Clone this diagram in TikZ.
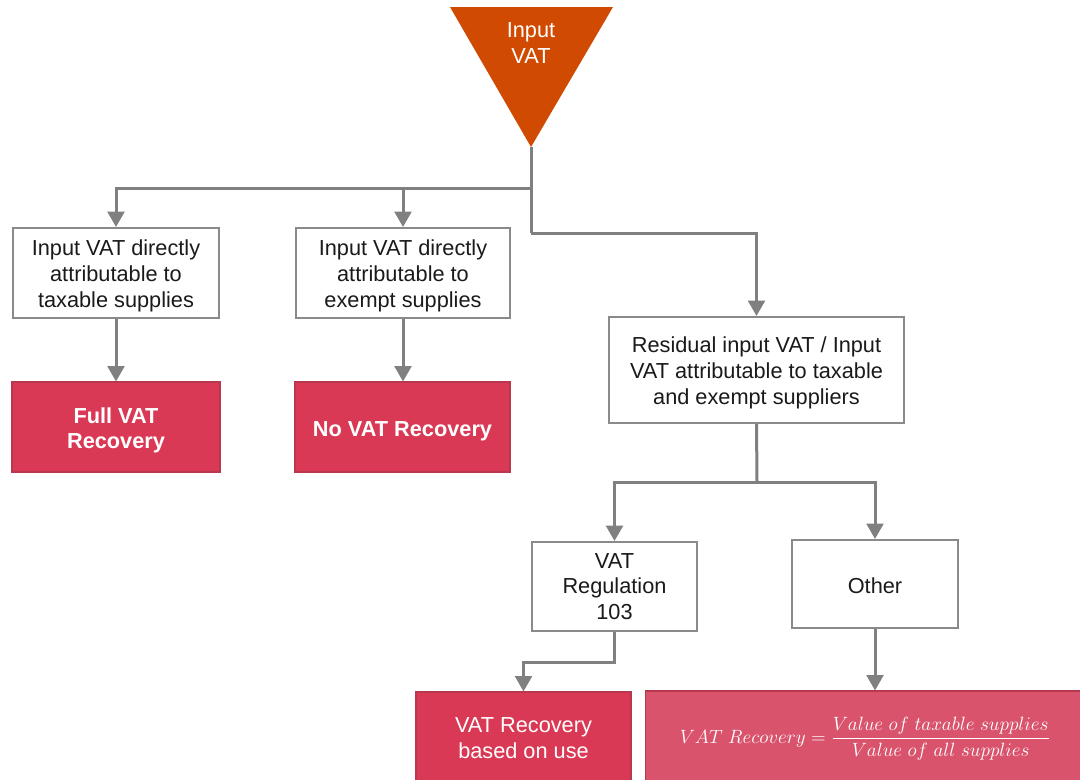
\documentclass[tikz,border=0pt]{standalone}
\usepackage{fontspec}
\setmainfont{Liberation Sans}
\usetikzlibrary{arrows.meta}
\definecolor{vatorange}{HTML}{D04A02}
\definecolor{vatred}{HTML}{D93954}
\definecolor{vatrose}{HTML}{D9536D}
\definecolor{vatredline}{HTML}{B8384F}
\definecolor{linegray}{HTML}{808080}
\definecolor{boxgray}{HTML}{8A8A8A}
\definecolor{ink}{HTML}{1A1A1A}
% taller first-line strut, lowers a text block inside its box
\newcommand\lowstrut[1]{\rule{0pt}{#1}}
\tikzset{
  whitebox/.style={draw=boxgray, line width=1.5pt, fill=white, align=center,
    text=ink, font=\fontsize{16.3}{19.2}\selectfont, inner sep=0pt},
  redbox/.style={draw=vatredline, line width=0.8pt, fill=vatred, align=center,
    text=white, font=\fontsize{16.3}{19.2}\selectfont, inner sep=0pt},
  conn/.style={draw=linegray, line width=2.25pt},
  arr/.style={conn, -{Triangle[width=12.5pt,length=11.5pt]}},
}
\begin{document}
\begin{tikzpicture}[x=0.75pt, y=-0.75pt]
  \clip (0,0) rectangle (1080,779);
  \fill[white] (0,0) rectangle (1080,779);

  % top triangle
  \coordinate (tl) at (450,7);
  \coordinate (tr) at (613,7);
  \coordinate (tip) at (531,147);
  \fill[vatorange] (tl) -- (tr) -- (tip) -- cycle;
  \node[align=center, text=white, font=\fontsize{16.3}{19.2}\selectfont] (input) at (531,43) {Input\\VAT};

  % junction points
  \coordinate (j0) at (531,188);
  \coordinate (j1) at (531,233);
  \coordinate (j2) at (757,482);

  % boxes
  \node[whitebox, minimum width=154.5pt, minimum height=67.5pt] (taxable) at (116,273)
    {\lowstrut{16pt}Input VAT directly\\attributable to\\taxable supplies};
  \node[whitebox, minimum width=160.5pt, minimum height=67.5pt] (exempt) at (403,273)
    {\lowstrut{16pt}Input VAT directly\\attributable to\\exempt supplies};
  \node[redbox, minimum width=156pt, minimum height=67.5pt, font=\fontsize{16.3}{18.5}\selectfont\bfseries] (full) at (116,427)
    {\lowstrut{16.5pt}Full VAT\\Recovery};
  \node[redbox, minimum width=161.25pt, minimum height=67.5pt, font=\fontsize{16.3}{18.5}\selectfont\bfseries] (none) at (402.5,427)
    {\lowstrut{17.5pt}No VAT Recovery};
  \node[whitebox, minimum width=221.25pt, minimum height=79.5pt] (residual) at (756.5,370)
    {\lowstrut{16pt}Residual input VAT / Input\\VAT attributable to taxable\\and exempt suppliers};
  \node[whitebox, minimum width=123.75pt, minimum height=66.75pt] (reg) at (614.5,586.5)
    {VAT\\Regulation\\103};
  \node[whitebox, minimum width=124.5pt, minimum height=66pt] (other) at (875,584)
    {\lowstrut{14.5pt}Other};
  \node[redbox, minimum width=161.25pt, minimum height=69pt] (use) at (523.5,738)
    {VAT Recovery\\based on use};
  \node[redbox, fill=vatrose, minimum width=329.25pt, minimum height=69pt, font=\fontsize{15}{17}\selectfont] (formula) at (865,737)
    {\lowstrut{22pt}$\displaystyle VAT\ Recovery=\frac{Value\ of\ taxable\ supplies}{Value\ of\ all\ supplies}$};

  % connectors
  \draw[conn] (tip) -- (j1);
  \draw[arr] (j1) -| (residual.north);
  \draw[arr] (j0) -| (taxable.north);
  \draw[arr] (j0 -| exempt.north) -- (exempt.north);
  \draw[arr] (taxable.south) -- (full.north);
  \draw[arr] (exempt.south) -- (exempt.south |- none.north);
  \draw[conn] (residual.south) -- (j2);
  \draw[arr] (j2) -| (reg.north);
  \draw[arr] (j2) -| (other.north);
  \draw[arr] (reg.south) -- ++(0,30) -| (use.north);
  \draw[arr] (other.south) -- (other.south |- formula.north);
\end{tikzpicture}
\end{document}
